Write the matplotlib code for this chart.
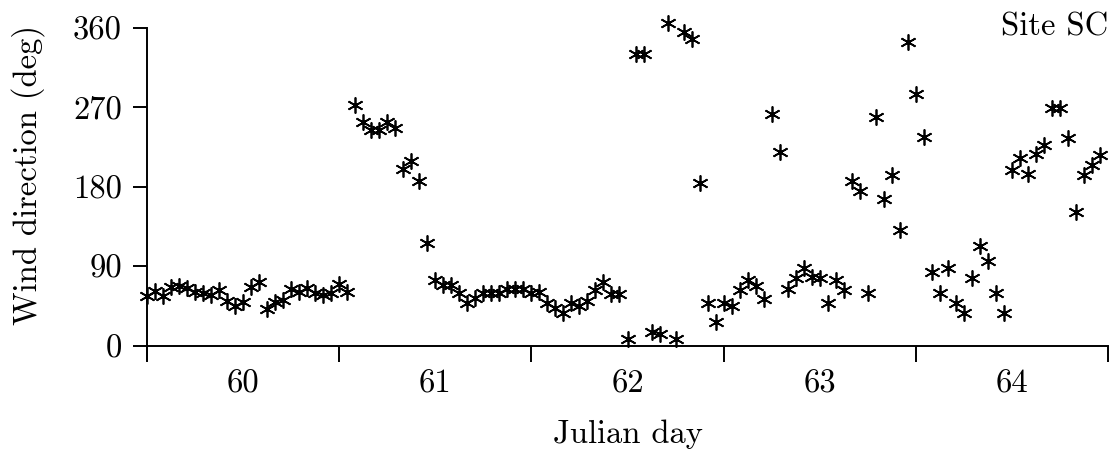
import numpy as np
import matplotlib
matplotlib.use('Agg')
import matplotlib.pyplot as plt

# hourly wind direction, starting at day 60.0
hours = np.arange(120)
wind_dir = [57, 62, 56, 67, 68, 65, 61, 60, 58, 63, 51, 45, 50, 67, 72, 42,
            50, 52, 64, 61, 65, 60, 58, 60, 70, 61, 273, 254, 245, 244, 253, 247,
            200, 209, 187, 116, 75, 69, 69, 60, 48, 54, 60, 60, 60, 64, 64, 64,
            60, 61, 49, 43, 37, 48, 45, 51, 63, 72, 59, 59, 8, 331, 331, 16,
            14, 366, 8, 355, 347, 185, 49, 27, 49, 45, 63, 75, 68, 53, 263, 219,
            64, 77, 88, 78, 77, 49, 75, 63, 187, 175, 60, 259, 166, 194, 131, 344,
            285, 237, 84, 60, 88, 48, 37, 77, 113, 96, 60, 37, 199, 213, 195, 217,
            228, 269, 269, 235, 152, 194, 205, 216]
day_start = 60
day_ticks = [60, 61, 62, 63, 64, 65]
day_labels = ['60', '61', '62', '63', '64']
y_ticks = [0, 90, 180, 270, 360]

plt.rcParams['font.family'] = 'cmr10'
plt.rcParams['axes.unicode_minus'] = False
plt.rcParams['mathtext.fontset'] = 'cm'
fs = 23.5

W, H = 1119, 454
fig = plt.figure(figsize=(W / 100, H / 100), dpi=100)
ax = fig.add_axes([147 / W, 1 - 360 / H, (1108 - 147) / W, (360 - 28) / H])

t = day_start + hours / 24.0
ax.plot(t, wind_dir, linestyle='none', marker=(6, 2, 0), markersize=11.5,
        markeredgewidth=1.25, color='black', clip_on=False)

ax.set_xlim(60, 65)
ax.set_ylim(-16, 360)
for s in ['top', 'right']:
    ax.spines[s].set_visible(False)
ax.spines['bottom'].set_position(('data', 0))
ax.spines['bottom'].set_linewidth(1.4)
ax.spines['left'].set_linewidth(1.4)

ax.set_xticks(day_ticks)
ax.set_xticklabels([])
ax.set_xticks([d + 0.5 for d in day_ticks[:-1]], minor=True)
ax.set_xticklabels(day_labels, minor=True)
ax.tick_params(axis='x', which='major', direction='out', length=11.5, width=1.4)
ax.tick_params(axis='x', which='minor', length=0, pad=17, labelsize=fs)

ax.set_yticks(y_ticks)
ax.set_yticklabels([str(v) for v in y_ticks])
ax.tick_params(axis='y', direction='out', length=10, width=1.4, pad=8, labelsize=fs)

fig.text(627.5 / W, 1 - 443 / H, 'Julian day', ha='center', va='baseline', fontsize=fs)
fig.text(28 / W, 1 - 175 / H, 'Wind direction (deg)', ha='center', va='center',
         rotation=90, fontsize=fs)
fig.text(1108 / W, 1 - 36 / H, 'Site SC', ha='right', va='baseline', fontsize=fs)

fig.savefig('out.png', dpi=100)
